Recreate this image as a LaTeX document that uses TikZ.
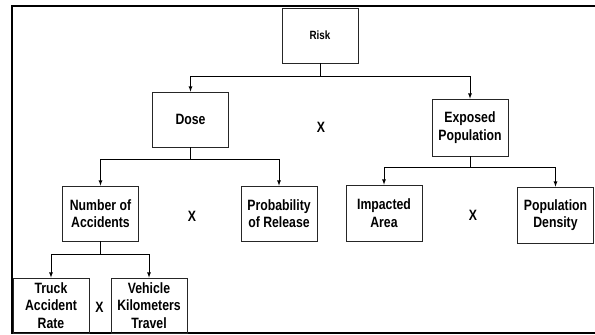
\documentclass[tikz,border=0pt]{standalone}
\usepackage{fontspec}
\setmainfont{Liberation Sans}[FakeStretch=0.82]
\usepackage{tikz}
\usetikzlibrary{arrows, positioning}

\begin{document}
\begin{tikzpicture}[->, >=latex, x=1bp, y=-1bp, line width=0.8bp, font=\fontsize{15}{17.5}\selectfont\bfseries]
			\tikzstyle{factor}=[rectangle, draw=black!85, minimum width=76bp, minimum height=55bp, align=center, inner sep=1pt]
			\tikzstyle{times}=[draw=none, font=\fontsize{15}{17.5}\selectfont\bfseries]
			\useasboundingbox (0,0) rectangle (595,334);
			% frame, open on the right
			\draw[-, line width=2bp] (595,5.5) -- (11.5,5.5) -- (11.5,332.5) -- (595,332.5);

			\node[factor, font=\fontsize{12}{14}\selectfont\bfseries](risk) at (320,35.5) {Risk};
			\node[factor](dose) at (190.5,119.5) {Dose};
			\node[factor, minimum height=57bp](exposed) at (470,127.5) {Exposed\\Population};
			\node[factor](accidents) at (100.5,213.5) {Number of\\Accidents};
			\node[factor](release) at (279,213.5) {Probability\\of Release};
			\node[factor, minimum height=56bp](area) at (384,213) {Impacted\\Area};
			\node[factor, minimum height=56bp](density) at (555.5,215) {Population\\Density};
			\node[factor](truck) at (51,305.5) {Truck\\Accident\\Rate};
			\node[factor](travel) at (149,305.5) {Vehicle\\Kilometers\\Travel};
%			\node[factor](travel)[right=22bp of truck] {Vehicle\\Kilometers\\Travel};

			\node[times](x-dose) at (321,127) {X};
			\node[times](x-accidents) at (192,216) {X};
			\node[times](x-area) at (473,215) {X};
			\node[times](x-truck) at (99.5,307) {X};

			\coordinate (risk-bar) at (320,76);
			\coordinate (dose-bar) at (190.5,159);
			\coordinate (exposed-bar) at (470,167);
			\coordinate (accidents-bar) at (100.5,254);

			\draw[-] (risk) -- (risk-bar);
			\draw (risk-bar) -| (dose);
			\draw (risk-bar) -| (exposed);
			\draw[-] (dose) -- (dose-bar);
			\draw (dose-bar) -| (accidents);
			\draw (dose-bar) -| (release);
			\draw[-] (exposed) -- (exposed-bar);
			\draw (exposed-bar) -| (area);
			\draw (exposed-bar) -| (density);
			\draw[-] (accidents) -- (accidents-bar);
			\draw (accidents-bar) -| (truck);
			\draw (accidents-bar) -| (travel);
		\end{tikzpicture}
\end{document}
